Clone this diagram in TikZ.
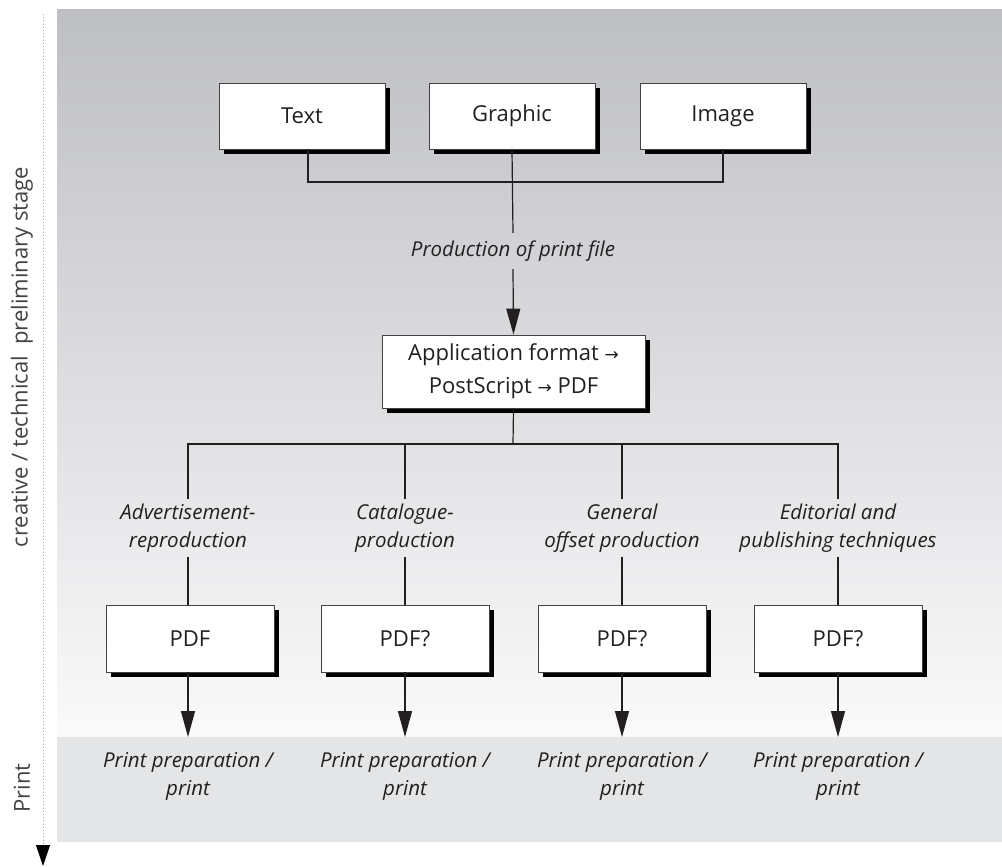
\documentclass[tikz,border=0pt]{standalone}
\usepackage{fontspec}
\setmainfont{Open Sans}
\newfontfamily\symf{DejaVu Sans}
\usetikzlibrary{arrows.meta,calc,shadows}
\definecolor{bgtop}{RGB}{190,191,195}
\definecolor{bgbot}{RGB}{250,250,251}
\definecolor{bandc}{RGB}{228,229,231}
\definecolor{ink}{RGB}{35,31,32}
\newcommand{\arr}{{\symf\fontsize{17}{17}\selectfont →}}
\begin{document}
\begin{tikzpicture}[x=1pt,y=-1pt,
  box/.style={draw=ink!85, line width=0.8pt, fill=white, minimum width=166pt,
    minimum height=66pt, inner sep=0pt, text=ink, font=\fontsize{22}{33}\selectfont,
    drop shadow={shadow xshift=5pt, shadow yshift=-5pt, opacity=1, fill=black}},
  lab/.style={inner sep=0pt, text=ink, align=center, font=\fontsize{20.5}{28}\selectfont\itshape},
  side/.style={rotate=90, inner sep=0pt, text=ink!85, font=\fontsize{22}{26}\selectfont},
  conn/.style={draw=ink, line width=1.2pt},
  arr/.style={conn, -{Triangle[width=14pt,length=26pt]}}
]
\useasboundingbox (0,0) rectangle (1002,867);
% backgrounds
\fill[top color=bgtop, bottom color=bgbot] (57,10) rectangle (1002,737);
\node[fill=bandc, inner sep=0pt, minimum width=945pt, minimum height=105pt, anchor=north west] (band) at (57,737) {};
% side axis
\coordinate (ax0) at (43,14);
\coordinate (ax1) at (43,846);
\coordinate (ax2) at (43,866);
\draw[gray!70, line width=1pt, dash pattern=on 1pt off 2.2pt] (ax0) -- (ax1);
\draw[line width=1pt, -{Triangle[width=14pt,length=21pt]}] (ax1) -- (ax2);
\node[side] (stage) at (22,357) {creative / technical\ \ preliminary stage};
\node[side] (print) at (22,788) {Print};
% top boxes
\node[box] (t) at (302,116) {Text};
\node[box] (g) at (512,116) {Graphic};
\node[box] (i) at (723,116) {Image};
\coordinate (jt) at (308,182);
\coordinate (ji) at (723,182);
\draw[conn] ([xshift=6pt]t.south) -- (jt) -- (ji) -- (i.south);
\node[lab, minimum height=36pt] (pl) at (513,251) {Production of print file};
\draw[conn] (g.south) -- (pl.north);
\node[box, minimum width=263pt, minimum height=73pt, align=center] (app) at (513.5,371.5)
  {Application format \arr\\PostScript \arr\ PDF};
\draw[arr] (pl.south) -- (app.north);
% lower bracket
\coordinate (bapp) at (513,444);
\foreach \k/\x in {1/188,2/405,3/622,4/838}{
  \coordinate (b\k) at (\x,444);
}
\node[lab, minimum height=58pt] (l1) at (188,528) {Advertisement-\\reproduction};
\node[lab, minimum height=58pt] (l2) at (405,528) {Catalogue-\\production};
\node[lab, minimum height=58pt] (l3) at (622,528) {General\\offset production};
\node[lab, minimum height=58pt] (l4) at (838,528) {Editorial and\\publishing techniques};
\draw[conn] (app.south) -- (bapp);
\draw[conn] (l1.north) -- (b1) -- (b4) -- (l4.north);
\draw[conn] (b2) -- (l2.north);
\draw[conn] (b3) -- (l3.north);
\node[box, minimum width=168pt, minimum height=67pt] (p1) at (190,638.5) {PDF};
\node[box, minimum width=168pt, minimum height=67pt] (p2) at (405,638.5) {PDF?};
\node[box, minimum width=168pt, minimum height=67pt] (p3) at (622,638.5) {PDF?};
\node[box, minimum width=168pt, minimum height=67pt] (p4) at (838,638.5) {PDF?};
\foreach \k in {1,2,3,4}{
  \draw[conn] (l\k.south) -- (l\k.south |- p\k.north);
  \draw[arr] (l\k.south |- p\k.south) -- (l\k.south |- band.north);
}
\node[lab] (q1) at (188,776) {Print preparation /\\print};
\node[lab] (q2) at (405,776) {Print preparation /\\print};
\node[lab] (q3) at (622,776) {Print preparation /\\print};
\node[lab] (q4) at (838,776) {Print preparation /\\print};
\end{tikzpicture}
\end{document}
